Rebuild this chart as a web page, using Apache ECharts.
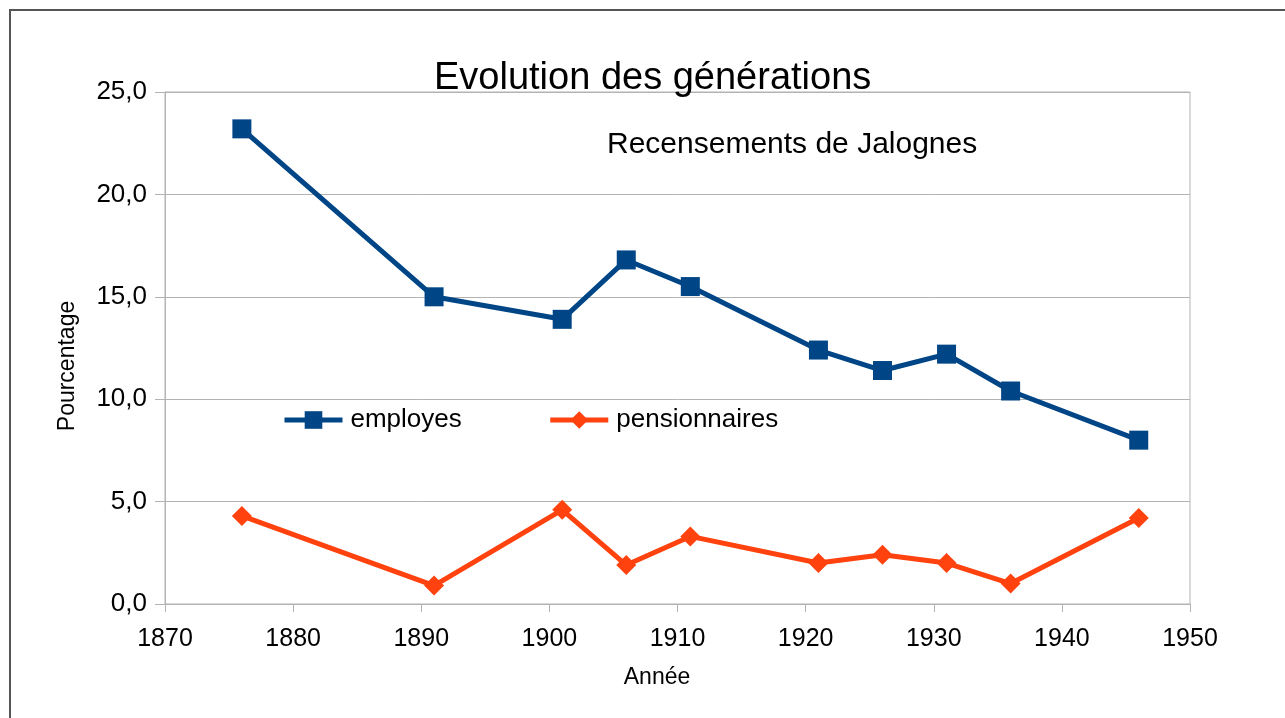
<!DOCTYPE html>
<html>
<head>
<meta charset="utf-8">
<script src="https://cdn.jsdelivr.net/npm/echarts@6/dist/echarts.min.js"></script>
<style>
html,body{margin:0;padding:0;background:#fff;}
#chart{width:1285px;height:718px;}
</style>
</head>
<body>
<div id="chart"></div>
<script>
const years = [1876, 1891, 1901, 1906, 1911, 1921, 1926, 1931, 1936, 1946];
const employes = [23.2, 15.0, 13.9, 16.8, 15.5, 12.4, 11.4, 12.2, 10.4, 8.0];
const pensionnaires = [4.3, 0.9, 4.6, 1.9, 3.3, 2.0, 2.4, 2.0, 1.0, 4.2];
const seriesNames = ['employes', 'pensionnaires'];
const titleText = 'Evolution des générations';
const subtitleText = 'Recensements de Jalognes';
const xAxisName = 'Année';
const yAxisName = 'Pourcentage';

const FONT = 'Liberation Sans, Arial, sans-serif';
const pairs = arr => years.map((y, i) => [y, arr[i]]);

const chart = echarts.init(document.getElementById('chart'), null, {renderer: 'canvas'});
chart.setOption({
  backgroundColor: '#ffffff',
  animation: false,
  textStyle: {fontFamily: FONT},
  title: {
    text: titleText,
    left: 434, top: 60,
    padding: 0,
    textStyle: {fontFamily: FONT, fontSize: 38, fontWeight: 'normal', color: '#000'}
  },
  graphic: [
    {type: 'text', left: 607, top: 130, style: {text: subtitleText, fontFamily: FONT, fontSize: 30, fill: '#000'}},
    {type: 'text', x: 68, y: 366, rotation: Math.PI / 2,
      style: {text: yAxisName, fontFamily: FONT, fontSize: 23, fill: '#000', align: 'center', verticalAlign: 'middle'}},
    {type: 'text', x: 657, y: 678,
      style: {text: xAxisName, fontFamily: FONT, fontSize: 23, fill: '#000', align: 'center', verticalAlign: 'middle'}},
    {type: 'polyline', silent: true, shape: {points: [[10, 718], [10, 10], [1285, 10]]}, style: {stroke: '#555555', lineWidth: 2, fill: null}}
  ],
  legend: {
    left: 282, top: 407,
    itemWidth: 58, itemHeight: 22, itemGap: 86,
    padding: 0,
    lineStyle: {width: 5},
    textStyle: {fontFamily: FONT, fontSize: 26, color: '#000', padding: [0, 0, 0, 3]},
    data: seriesNames
  },
  grid: {
    left: 165, right: 95, top: 92, bottom: 114,
    show: true, borderColor: '#b3b3b3', borderWidth: 1, backgroundColor: 'transparent'
  },
  xAxis: {
    type: 'value', min: 1870, max: 1950, interval: 10,
    axisLine: {show: true, lineStyle: {color: '#b3b3b3', width: 1}},
    axisTick: {show: true, inside: false, length: 8, lineStyle: {color: '#b3b3b3'}},
    axisLabel: {fontFamily: FONT, fontSize: 25, color: '#000', margin: 23,
      formatter: v => String(v)},
    splitLine: {show: false}
  },
  yAxis: {
    type: 'value', min: 0, max: 25, interval: 5,
    axisLine: {show: true, lineStyle: {color: '#b3b3b3', width: 1}},
    axisTick: {show: true, inside: false, length: 10, lineStyle: {color: '#b3b3b3'}},
    axisLabel: {fontFamily: FONT, fontSize: 26, color: '#000', margin: 18,
      formatter: v => v.toFixed(1).replace('.', ',')},
    splitLine: {show: true, lineStyle: {color: '#b3b3b3', width: 1}}
  },
  series: [
    {
      name: seriesNames[0], type: 'line', data: pairs(employes),
      symbol: 'rect', symbolSize: 19, showAllSymbol: true,
      lineStyle: {color: '#004586', width: 5},
      itemStyle: {color: '#004586'}
    },
    {
      name: seriesNames[1], type: 'line', data: pairs(pensionnaires),
      symbol: 'diamond', symbolSize: 20, showAllSymbol: true,
      lineStyle: {color: '#ff420e', width: 5},
      itemStyle: {color: '#ff420e'}
    }
  ]
});
</script>
</body>
</html>
